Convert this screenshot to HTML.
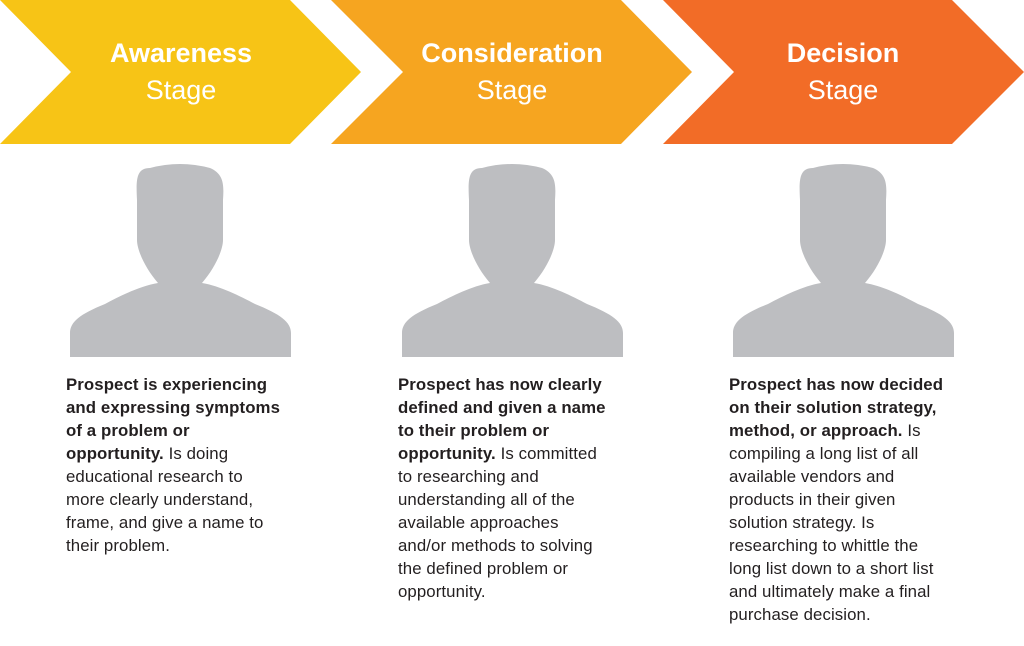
<!DOCTYPE html>
<html><head><meta charset="utf-8"><style>
body{margin:0;width:1024px;height:646px;background:#fff;overflow:hidden;position:relative;font-family:"Liberation Sans",sans-serif}
svg{position:absolute;left:0;top:0}
.t{position:absolute;color:#fff;text-align:center;width:300px}
.t1{font-size:27px;font-weight:bold;top:38px}
.t2{font-size:27px;top:75px}
.d{position:absolute;top:373px;font-size:16.8px;letter-spacing:0.1px;line-height:23px;color:#231f20;white-space:nowrap}
.d b{font-weight:bold}
</style></head><body>
<svg width="1024" height="646">
<defs>
<path id="p" d="M-43,200 C-44,180 -44,168 -30,168 Q0,160 30,168 C44,174 44,185 43,200 L43,240 C43,250 35,268 22,283 C40,286 60,296 75,304 C100,314 111,322 111,333 L111,357 L-110,357 L-110,333 C-110,322 -100,314 -75,304 C-60,296 -40,286 -22,283 C-35,268 -43,250 -43,240 Z"/>
</defs>
<polygon points="0,0 290,0 361,72 290,144 0,144 71,72" fill="#F7C416"/>
<polygon points="331,0 621,0 692,72 621,144 331,144 403,72" fill="#F6A520"/>
<polygon points="663,0 952,0 1024,72 952,144 663,144 734,72" fill="#F26C27"/>
<g fill="#BDBEC1">
<use href="#p" transform="translate(180,0)"/>
<use href="#p" transform="translate(512,0)"/>
<use href="#p" transform="translate(843,0)"/>
</g>
</svg>
<div class="t t1" style="left:31px">Awareness</div><div class="t t2" style="left:31px">Stage</div>
<div class="t t1" style="left:362px">Consideration</div><div class="t t2" style="left:362px">Stage</div>
<div class="t t1" style="left:693px">Decision</div><div class="t t2" style="left:693px">Stage</div>
<div class="d" style="left:66px"><b>Prospect is experiencing<br>and expressing symptoms<br>of a problem or<br>opportunity.</b> Is doing<br>educational research to<br>more clearly understand,<br>frame, and give a name to<br>their problem.</div>
<div class="d" style="left:398px"><b>Prospect has now clearly<br>defined and given a name<br>to their problem or<br>opportunity.</b> Is committed<br>to researching and<br>understanding all of the<br>available approaches<br>and/or methods to solving<br>the defined problem or<br>opportunity.</div>
<div class="d" style="left:729px"><b>Prospect has now decided<br>on their solution strategy,<br>method, or approach.</b> Is<br>compiling a long list of all<br>available vendors and<br>products in their given<br>solution strategy. Is<br>researching to whittle the<br>long list down to a short list<br>and ultimately make a final<br>purchase decision.</div>
</body></html>
